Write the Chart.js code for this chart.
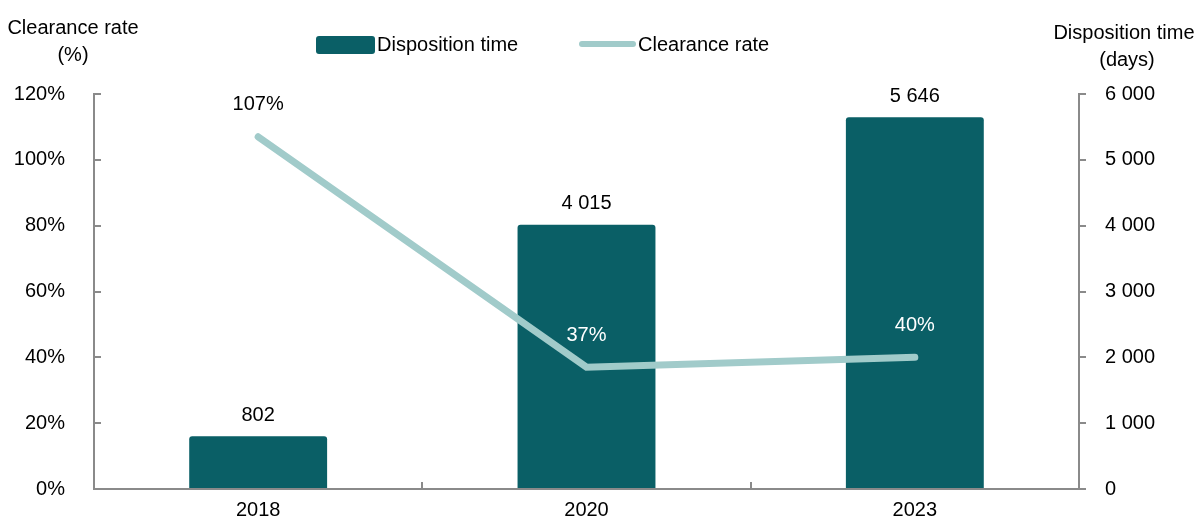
<!DOCTYPE html>
<html lang="en">
<head>
<meta charset="UTF-8">
<title>Disposition time and clearance rate</title>
<script src="https://cdn.jsdelivr.net/npm/chart.js"></script>
<style>
  html, body { margin: 0; padding: 0; background: #fff; }
  canvas { display: block; }
</style>
</head>
<body>
<canvas id="chart" width="1195" height="519"></canvas>
<script>
const years = ['2018', '2020', '2023'];
const dispositionDays = [802, 4015, 5646];
const clearanceRate = [107, 37, 40];
const rateTicks = [0, 20, 40, 60, 80, 100, 120];
const dayTicks = [0, 1000, 2000, 3000, 4000, 5000, 6000];

const BAR = '#0a5f66';
const LINE = '#a1cbca';
const AXIS = '#8a8a8a';
const FONT = '"Liberation Sans", Arial, sans-serif';

const spaced = v => String(v).replace(/\B(?=(\d{3})+(?!\d))/g, ' ');

Chart.defaults.font.family = FONT;
Chart.defaults.font.size = 20;
Chart.defaults.color = '#000';

// titles, legend, inside tick marks and value labels
const extras = {
  id: 'extras',
  afterDraw(chart) {
    const ctx = chart.ctx;
    const area = chart.chartArea;
    const yL = chart.scales.yL, x = chart.scales.x;
    ctx.save();

    // inward ticks on the left and bottom axes
    ctx.strokeStyle = AXIS;
    ctx.lineWidth = 2;
    ctx.beginPath();
    yL.ticks.forEach(t => {
      const py = Math.round(yL.getPixelForValue(t.value));
      ctx.moveTo(area.left, py);
      ctx.lineTo(area.left + 7, py);
    });
    for (let i = 0; i < years.length - 1; i++) {
      const px = Math.round((x.getPixelForValue(i) + x.getPixelForValue(i + 1)) / 2);
      ctx.moveTo(px, area.bottom);
      ctx.lineTo(px, area.bottom - 7);
    }
    ctx.stroke();

    // axis titles
    ctx.fillStyle = '#000';
    ctx.font = '20px ' + FONT;
    ctx.textAlign = 'center';
    ctx.textBaseline = 'middle';
    ctx.fillText('Clearance rate', 73, 28);
    ctx.fillText('(%)', 73, 55);
    ctx.fillText('Disposition time', 1124, 33);
    ctx.fillText('(days)', 1127, 60);

    // legend
    const ds = chart.data.datasets;
    ctx.textAlign = 'left';
    ctx.fillStyle = ds[0].backgroundColor;
    ctx.beginPath();
    ctx.roundRect(316, 36, 59, 18, 3);
    ctx.fill();
    ctx.fillStyle = '#000';
    ctx.fillText(ds[0].label, 377, 45);
    ctx.strokeStyle = ds[1].borderColor;
    ctx.lineWidth = 6;
    ctx.lineCap = 'round';
    ctx.beginPath();
    ctx.moveTo(582, 44);
    ctx.lineTo(633, 44);
    ctx.stroke();
    ctx.fillText(ds[1].label, 638, 45);

    // value labels
    ctx.textAlign = 'center';
    chart.getDatasetMeta(0).data.forEach((bar, i) => {
      ctx.fillStyle = '#000';
      ctx.fillText(spaced(dispositionDays[i]), bar.x, bar.y - 21);
    });
    chart.getDatasetMeta(1).data.forEach((pt, i) => {
      ctx.fillStyle = i === 0 ? '#000' : '#fff';
      ctx.fillText(clearanceRate[i] + '%', pt.x, pt.y - 32);
    });
    ctx.restore();
  }
};

// fixed axis sizes; y axes should not reserve room under the plot
const fixWidth = w => s => { s.width = w; s.paddingTop = 0; s.paddingBottom = 0; };

new Chart(document.getElementById('chart'), {
  data: {
    labels: years,
    datasets: [
      {
        type: 'bar',
        label: 'Disposition time',
        data: dispositionDays,
        yAxisID: 'yR',
        backgroundColor: BAR,
        borderRadius: { topLeft: 3, topRight: 3 },
        borderSkipped: 'bottom',
        barPercentage: 0.42,
        categoryPercentage: 1,
        order: 1
      },
      {
        type: 'line',
        label: 'Clearance rate',
        data: clearanceRate,
        yAxisID: 'yL',
        borderColor: LINE,
        backgroundColor: LINE,
        borderWidth: 7,
        borderCapStyle: 'round',
        borderJoinStyle: 'miter',
        pointRadius: 0,
        tension: 0,
        order: 0
      }
    ]
  },
  options: {
    responsive: false,
    animation: false,
    events: [],
    layout: { padding: { top: 94, left: 0, right: 0, bottom: 0 } },
    plugins: { legend: { display: false }, tooltip: { enabled: false } },
    scales: {
      x: {
        offset: true,
        grid: { display: false, offset: true },
        border: { display: true, color: AXIS, width: 2 },
        ticks: { padding: 1, color: '#000' },
        afterFit: s => { s.height = 30; }
      },
      yL: {
        position: 'left',
        min: 0,
        max: 120,
        afterBuildTicks: s => { s.ticks = rateTicks.map(v => ({ value: v })); },
        ticks: { callback: v => v + '%', padding: 21, color: '#000' },
        grid: { display: false },
        border: { display: true, color: AXIS, width: 2 },
        afterFit: fixWidth(94)
      },
      yR: {
        position: 'right',
        min: 0,
        max: 6000,
        afterBuildTicks: s => { s.ticks = dayTicks.map(v => ({ value: v })); },
        ticks: { callback: v => spaced(v), padding: 19, color: '#000' },
        grid: { drawOnChartArea: false, drawTicks: true, tickLength: 7, color: AXIS, lineWidth: 2 },
        border: { display: true, color: AXIS, width: 2 },
        afterFit: fixWidth(116)
      }
    }
  },
  plugins: [extras]
});
</script>
</body>
</html>
